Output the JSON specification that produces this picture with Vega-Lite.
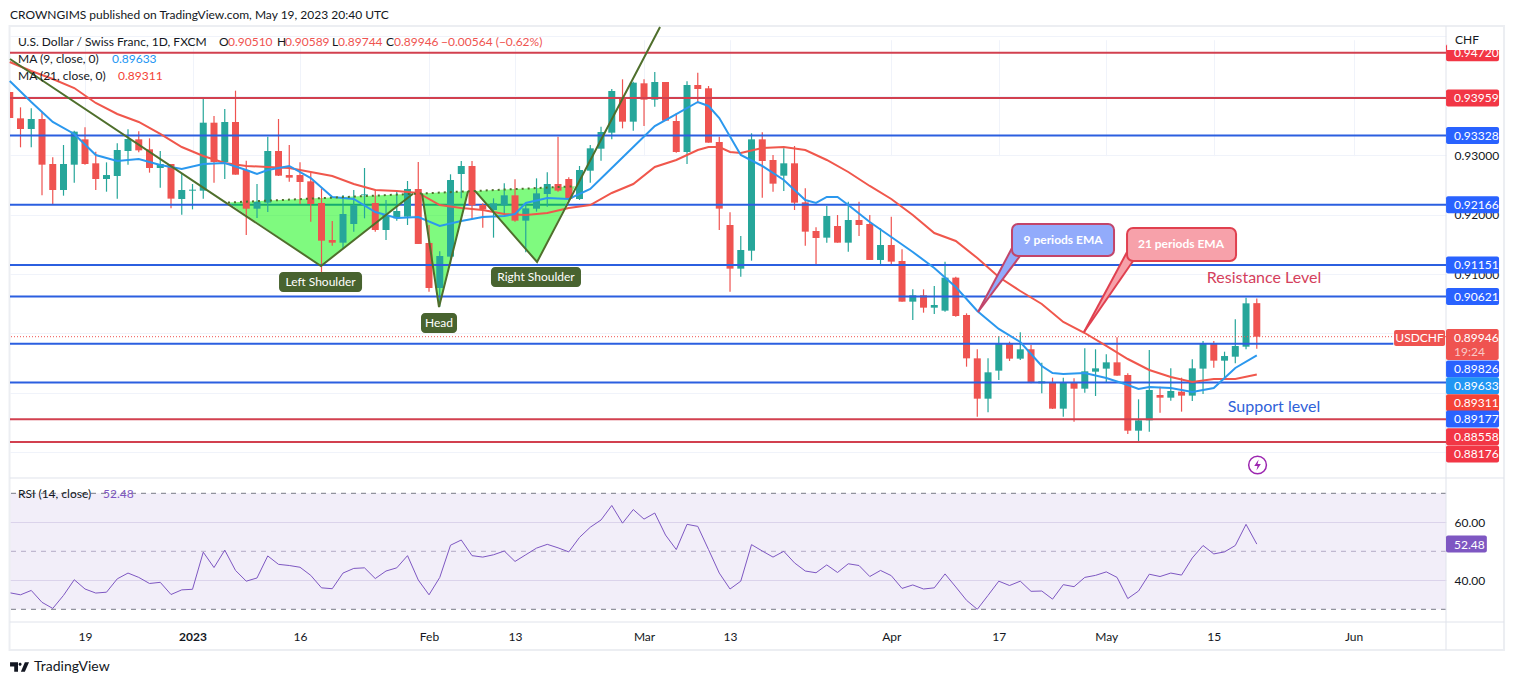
{
  "$schema": "https://vega.github.io/schema/vega-lite/v6.json",
  "autosize": "none",
  "padding": {"left": 10, "top": 27, "right": 68, "bottom": 63},
  "width": 1436,
  "height": 595,
  "background": "#ffffff",
  "config": {"font": "Lato", "view": {"stroke": null}, "legend": {"disable": true}, "text": {"font": "Lato"}},
  "datasets": {
    "candles": [
      {"k":-7,"o":0.94060,"h":0.94060,"l":0.93623,"c":0.93623},
      {"k":-6,"o":0.93617,"h":0.93802,"l":0.93130,"c":0.93438},
      {"k":-5,"o":0.93438,"h":0.93785,"l":0.93130,"c":0.93606},
      {"k":-4,"o":0.93606,"h":0.93729,"l":0.92323,"c":0.92838},
      {"k":-3,"o":0.92849,"h":0.92961,"l":0.92160,"c":0.92412},
      {"k":-2,"o":0.92412,"h":0.93169,"l":0.92317,"c":0.92849},
      {"k":-1,"o":0.92838,"h":0.93410,"l":0.92536,"c":0.93393},
      {"k":0,"o":0.93264,"h":0.93466,"l":0.92838,"c":0.92849},
      {"k":1,"o":0.92861,"h":0.93057,"l":0.92412,"c":0.92597},
      {"k":2,"o":0.92597,"h":0.92877,"l":0.92384,"c":0.92664},
      {"k":3,"o":0.92648,"h":0.93197,"l":0.92267,"c":0.93085},
      {"k":4,"o":0.93068,"h":0.93432,"l":0.92838,"c":0.93270},
      {"k":5,"o":0.93264,"h":0.93399,"l":0.93046,"c":0.93079},
      {"k":6,"o":0.93096,"h":0.93281,"l":0.92704,"c":0.92782},
      {"k":7,"o":0.92782,"h":0.93068,"l":0.92452,"c":0.92849},
      {"k":8,"o":0.92849,"h":0.92849,"l":0.92104,"c":0.92267},
      {"k":9,"o":0.92261,"h":0.92681,"l":0.91998,"c":0.92412},
      {"k":10,"o":0.92401,"h":0.92513,"l":0.92087,"c":0.92418},
      {"k":11,"o":0.92401,"h":0.93970,"l":0.92267,"c":0.93544},
      {"k":12,"o":0.93544,"h":0.93656,"l":0.92536,"c":0.92883},
      {"k":13,"o":0.92883,"h":0.93774,"l":0.92597,"c":0.93556},
      {"k":14,"o":0.93556,"h":0.94082,"l":0.92670,"c":0.92670},
      {"k":15,"o":0.92749,"h":0.92905,"l":0.91656,"c":0.92098},
      {"k":16,"o":0.92098,"h":0.92513,"l":0.91942,"c":0.92211},
      {"k":17,"o":0.92199,"h":0.93309,"l":0.92042,"c":0.93068},
      {"k":18,"o":0.93068,"h":0.93606,"l":0.92648,"c":0.92653},
      {"k":19,"o":0.92664,"h":0.93169,"l":0.92552,"c":0.92620},
      {"k":20,"o":0.92664,"h":0.92877,"l":0.92177,"c":0.92547},
      {"k":21,"o":0.92558,"h":0.92704,"l":0.91880,"c":0.92177},
      {"k":22,"o":0.92194,"h":0.92440,"l":0.90899,"c":0.91560},
      {"k":23,"o":0.91572,"h":0.91891,"l":0.91476,"c":0.91527},
      {"k":24,"o":0.91527,"h":0.92328,"l":0.91432,"c":0.92009},
      {"k":25,"o":0.91841,"h":0.92412,"l":0.91712,"c":0.92160},
      {"k":26,"o":0.92323,"h":0.92782,"l":0.91936,"c":0.92339},
      {"k":27,"o":0.92194,"h":0.92424,"l":0.91712,"c":0.91740},
      {"k":28,"o":0.91740,"h":0.92244,"l":0.91572,"c":0.91992},
      {"k":29,"o":0.91936,"h":0.92384,"l":0.91897,"c":0.92059},
      {"k":30,"o":0.91964,"h":0.92564,"l":0.91824,"c":0.92429},
      {"k":31,"o":0.92429,"h":0.92883,"l":0.91505,"c":0.91505},
      {"k":32,"o":0.91521,"h":0.91824,"l":0.90703,"c":0.90765},
      {"k":33,"o":0.90765,"h":0.91381,"l":0.90451,"c":0.91303},
      {"k":34,"o":0.91292,"h":0.92676,"l":0.91151,"c":0.92580},
      {"k":35,"o":0.92681,"h":0.92900,"l":0.92272,"c":0.92816},
      {"k":36,"o":0.92816,"h":0.92900,"l":0.91919,"c":0.92155},
      {"k":37,"o":0.92160,"h":0.92188,"l":0.91779,"c":0.92087},
      {"k":38,"o":0.92076,"h":0.92272,"l":0.91611,"c":0.92188},
      {"k":39,"o":0.92155,"h":0.92524,"l":0.91992,"c":0.92323},
      {"k":40,"o":0.92323,"h":0.92592,"l":0.91880,"c":0.91897},
      {"k":41,"o":0.91897,"h":0.92188,"l":0.91364,"c":0.92104},
      {"k":42,"o":0.92098,"h":0.92608,"l":0.92048,"c":0.92356},
      {"k":43,"o":0.92345,"h":0.92709,"l":0.92132,"c":0.92513},
      {"k":44,"o":0.92513,"h":0.93309,"l":0.92384,"c":0.92401},
      {"k":45,"o":0.92597,"h":0.92625,"l":0.92216,"c":0.92261},
      {"k":46,"o":0.92261,"h":0.92816,"l":0.92244,"c":0.92749},
      {"k":47,"o":0.92737,"h":0.93169,"l":0.92536,"c":0.93113},
      {"k":48,"o":0.93107,"h":0.93477,"l":0.92905,"c":0.93387},
      {"k":49,"o":0.93376,"h":0.94110,"l":0.93264,"c":0.94077},
      {"k":50,"o":0.93970,"h":0.94273,"l":0.93449,"c":0.93561},
      {"k":51,"o":0.93561,"h":0.94234,"l":0.93410,"c":0.94217},
      {"k":52,"o":0.94206,"h":0.94273,"l":0.93488,"c":0.93931},
      {"k":53,"o":0.93931,"h":0.94396,"l":0.93813,"c":0.94228},
      {"k":54,"o":0.94228,"h":0.94228,"l":0.93578,"c":0.93578},
      {"k":55,"o":0.93572,"h":0.93701,"l":0.93040,"c":0.93051},
      {"k":56,"o":0.93051,"h":0.94239,"l":0.92850,"c":0.94178},
      {"k":57,"o":0.94178,"h":0.94385,"l":0.93869,"c":0.94110},
      {"k":58,"o":0.94122,"h":0.94161,"l":0.93208,"c":0.93208},
      {"k":59,"o":0.93219,"h":0.93309,"l":0.91740,"c":0.92099},
      {"k":60,"o":0.91824,"h":0.92037,"l":0.90703,"c":0.91090},
      {"k":61,"o":0.91090,"h":0.91639,"l":0.90955,"c":0.91404},
      {"k":62,"o":0.91392,"h":0.93365,"l":0.91224,"c":0.93264},
      {"k":63,"o":0.93264,"h":0.93382,"l":0.92284,"c":0.92900},
      {"k":64,"o":0.92917,"h":0.93001,"l":0.92384,"c":0.92519},
      {"k":65,"o":0.92653,"h":0.93113,"l":0.92396,"c":0.92861},
      {"k":66,"o":0.92861,"h":0.93152,"l":0.92076,"c":0.92199},
      {"k":67,"o":0.92205,"h":0.92440,"l":0.91476,"c":0.91712},
      {"k":68,"o":0.91723,"h":0.91785,"l":0.91163,"c":0.91605},
      {"k":69,"o":0.91611,"h":0.92143,"l":0.91527,"c":0.91975},
      {"k":70,"o":0.91807,"h":0.91992,"l":0.91527,"c":0.91527},
      {"k":71,"o":0.91527,"h":0.92216,"l":0.91376,"c":0.91908},
      {"k":72,"o":0.91908,"h":0.92216,"l":0.91639,"c":0.91824},
      {"k":73,"o":0.91841,"h":0.91992,"l":0.91236,"c":0.91236},
      {"k":74,"o":0.91236,"h":0.91768,"l":0.91163,"c":0.91488},
      {"k":75,"o":0.91488,"h":0.91964,"l":0.91151,"c":0.91208},
      {"k":76,"o":0.91219,"h":0.91415,"l":0.90535,"c":0.90535},
      {"k":77,"o":0.90535,"h":0.90742,"l":0.90227,"c":0.90642},
      {"k":78,"o":0.90642,"h":0.90742,"l":0.90350,"c":0.90434},
      {"k":79,"o":0.90434,"h":0.90798,"l":0.90328,"c":0.90479},
      {"k":80,"o":0.90384,"h":0.91208,"l":0.90367,"c":0.90939},
      {"k":81,"o":0.90939,"h":0.90955,"l":0.90283,"c":0.90294},
      {"k":82,"o":0.90311,"h":0.90339,"l":0.89442,"c":0.89582},
      {"k":83,"o":0.89582,"h":0.89734,"l":0.88602,"c":0.88904},
      {"k":84,"o":0.88904,"h":0.89582,"l":0.88675,"c":0.89347},
      {"k":85,"o":0.89375,"h":0.89958,"l":0.89218,"c":0.89823},
      {"k":86,"o":0.89823,"h":0.89863,"l":0.89537,"c":0.89577},
      {"k":87,"o":0.89577,"h":0.90019,"l":0.89554,"c":0.89734},
      {"k":88,"o":0.89734,"h":0.89807,"l":0.89162,"c":0.89173},
      {"k":89,"o":0.89162,"h":0.89510,"l":0.88994,"c":0.89196},
      {"k":90,"o":0.89179,"h":0.89257,"l":0.88730,"c":0.88736},
      {"k":91,"o":0.88736,"h":0.89257,"l":0.88602,"c":0.89179},
      {"k":92,"o":0.89179,"h":0.89246,"l":0.88518,"c":0.89072},
      {"k":93,"o":0.89072,"h":0.89750,"l":0.89005,"c":0.89364},
      {"k":94,"o":0.89358,"h":0.89734,"l":0.88949,"c":0.89414},
      {"k":95,"o":0.89409,"h":0.89650,"l":0.89173,"c":0.89515},
      {"k":96,"o":0.89515,"h":0.89935,"l":0.89291,"c":0.89291},
      {"k":97,"o":0.89302,"h":0.89330,"l":0.88310,"c":0.88366},
      {"k":98,"o":0.88366,"h":0.88893,"l":0.88193,"c":0.88540},
      {"k":99,"o":0.88540,"h":0.89722,"l":0.88349,"c":0.89050},
      {"k":100,"o":0.88966,"h":0.89106,"l":0.88669,"c":0.88921},
      {"k":101,"o":0.88921,"h":0.89414,"l":0.88871,"c":0.89033},
      {"k":102,"o":0.89022,"h":0.89257,"l":0.88686,"c":0.88955},
      {"k":103,"o":0.88955,"h":0.89565,"l":0.88865,"c":0.89414},
      {"k":104,"o":0.89409,"h":0.89874,"l":0.88983,"c":0.89823},
      {"k":105,"o":0.89823,"h":0.89874,"l":0.89425,"c":0.89543},
      {"k":106,"o":0.89543,"h":0.89694,"l":0.89246,"c":0.89621},
      {"k":107,"o":0.89610,"h":0.90238,"l":0.89498,"c":0.89790},
      {"k":108,"o":0.89778,"h":0.90602,"l":0.89734,"c":0.90507},
      {"k":109,"o":0.90510,"h":0.90589,"l":0.89744,"c":0.89946}
    ],
    "ma9": [
      {"k":-7,"v":0.94245},{"k":-5,"v":0.93892},{"k":-3,"v":0.93556},{"k":-1,"v":0.93354},{"k":1,"v":0.93001},{"k":3,"v":0.92900},{"k":5,"v":0.92934},{"k":7,"v":0.92833},{"k":9,"v":0.92765},{"k":11,"v":0.92849},{"k":13,"v":0.92866},{"k":15,"v":0.92749},{"k":16,"v":0.92681},{"k":17,"v":0.92749},{"k":19,"v":0.92816},{"k":21,"v":0.92614},{"k":23,"v":0.92295},{"k":25,"v":0.92261},{"k":27,"v":0.92042},{"k":29,"v":0.91942},{"k":31,"v":0.91958},{"k":33,"v":0.91807},{"k":35,"v":0.91891},{"k":37,"v":0.91958},{"k":39,"v":0.91975},{"k":40,"v":0.92009},{"k":41,"v":0.92194},{"k":43,"v":0.92278},{"k":45,"v":0.92261},{"k":47,"v":0.92429},{"k":49,"v":0.92782},{"k":51,"v":0.93135},{"k":53,"v":0.93488},{"k":55,"v":0.93690},{"k":57,"v":0.93892},{"k":58,"v":0.93825},{"k":59,"v":0.93623},{"k":61,"v":0.93001},{"k":63,"v":0.92816},{"k":65,"v":0.92580},{"k":67,"v":0.92244},{"k":68,"v":0.92194},{"k":69,"v":0.92295},{"k":70,"v":0.92295},{"k":71,"v":0.92160},{"k":73,"v":0.91874},{"k":75,"v":0.91622},{"k":77,"v":0.91370},{"k":79,"v":0.91101},{"k":81,"v":0.90782},{"k":83,"v":0.90378},{"k":85,"v":0.90076},{"k":87,"v":0.89857},{"k":89,"v":0.89453},{"k":90,"v":0.89336},{"k":91,"v":0.89319},{"k":93,"v":0.89336},{"k":95,"v":0.89252},{"k":97,"v":0.89134},{"k":98,"v":0.89067},{"k":99,"v":0.89100},{"k":101,"v":0.89084},{"k":103,"v":0.89016},{"k":105,"v":0.89084},{"k":107,"v":0.89420},{"k":109,"v":0.89633}
    ],
    "ma21": [
      {"k":-7,"v":0.94564},{"k":-5,"v":0.94413},{"k":-3,"v":0.94278},{"k":-1,"v":0.94127},{"k":1,"v":0.93875},{"k":3,"v":0.93690},{"k":5,"v":0.93556},{"k":7,"v":0.93354},{"k":9,"v":0.93135},{"k":11,"v":0.92984},{"k":13,"v":0.92866},{"k":15,"v":0.92816},{"k":17,"v":0.92799},{"k":19,"v":0.92782},{"k":21,"v":0.92715},{"k":23,"v":0.92648},{"k":25,"v":0.92513},{"k":27,"v":0.92412},{"k":29,"v":0.92396},{"k":31,"v":0.92362},{"k":33,"v":0.92160},{"k":35,"v":0.92110},{"k":37,"v":0.92076},{"k":39,"v":0.92009},{"k":41,"v":0.91992},{"k":43,"v":0.92026},{"k":45,"v":0.92110},{"k":47,"v":0.92160},{"k":49,"v":0.92362},{"k":51,"v":0.92513},{"k":53,"v":0.92799},{"k":55,"v":0.92917},{"k":57,"v":0.93085},{"k":58,"v":0.93135},{"k":59,"v":0.93135},{"k":60,"v":0.93051},{"k":61,"v":0.93034},{"k":63,"v":0.93118},{"k":65,"v":0.93135},{"k":67,"v":0.93085},{"k":69,"v":0.92917},{"k":71,"v":0.92715},{"k":73,"v":0.92480},{"k":75,"v":0.92261},{"k":77,"v":0.91992},{"k":79,"v":0.91689},{"k":81,"v":0.91555},{"k":83,"v":0.91269},{"k":85,"v":0.90950},{"k":87,"v":0.90714},{"k":89,"v":0.90496},{"k":91,"v":0.90193},{"k":93,"v":0.90008},{"k":95,"v":0.89790},{"k":97,"v":0.89571},{"k":99,"v":0.89386},{"k":101,"v":0.89269},{"k":103,"v":0.89184},{"k":105,"v":0.89235},{"k":107,"v":0.89235},{"k":109,"v":0.89311}
    ],
    "rsi": [
      {"k":-7,"v":35.7},{"k":-6,"v":35.0},{"k":-5,"v":36.5},{"k":-4,"v":32.4},{"k":-3,"v":30.3},{"k":-2,"v":34.8},{"k":-1,"v":40.2},{"k":0,"v":37.0},{"k":1,"v":35.6},{"k":2,"v":35.9},{"k":3,"v":40.5},{"k":4,"v":42.5},{"k":5,"v":41.0},{"k":6,"v":38.9},{"k":7,"v":39.3},{"k":8,"v":35.1},{"k":9,"v":36.7},{"k":10,"v":36.9},{"k":11,"v":49.7},{"k":12,"v":44.4},{"k":13,"v":50.4},{"k":14,"v":43.4},{"k":15,"v":39.7},{"k":16,"v":40.8},{"k":17,"v":48.4},{"k":18,"v":45.5},{"k":19,"v":45.1},{"k":20,"v":44.5},{"k":21,"v":41.7},{"k":22,"v":37.4},{"k":23,"v":37.1},{"k":24,"v":42.5},{"k":25,"v":44.1},{"k":26,"v":44.3},{"k":27,"v":40.6},{"k":28,"v":43.2},{"k":29,"v":44.3},{"k":30,"v":48.5},{"k":31,"v":40.1},{"k":32,"v":35.0},{"k":33,"v":41.0},{"k":34,"v":52.1},{"k":35,"v":53.9},{"k":36,"v":48.5},{"k":37,"v":48.0},{"k":38,"v":48.8},{"k":39,"v":50.1},{"k":40,"v":46.5},{"k":41,"v":48.8},{"k":42,"v":51.1},{"k":43,"v":52.4},{"k":44,"v":51.2},{"k":45,"v":49.8},{"k":46,"v":54.8},{"k":47,"v":58.3},{"k":48,"v":60.8},{"k":49,"v":65.8},{"k":50,"v":59.7},{"k":51,"v":64.4},{"k":52,"v":61.1},{"k":53,"v":63.2},{"k":54,"v":55.6},{"k":55,"v":50.6},{"k":56,"v":59.3},{"k":57,"v":58.6},{"k":58,"v":50.6},{"k":59,"v":42.5},{"k":60,"v":37.0},{"k":61,"v":39.7},{"k":62,"v":52.3},{"k":63,"v":50.1},{"k":64,"v":48.0},{"k":65,"v":50.0},{"k":66,"v":46.0},{"k":67,"v":43.2},{"k":68,"v":42.6},{"k":69,"v":45.3},{"k":70,"v":42.7},{"k":71,"v":45.7},{"k":72,"v":45.1},{"k":73,"v":41.3},{"k":74,"v":43.4},{"k":75,"v":41.6},{"k":76,"v":37.2},{"k":77,"v":38.4},{"k":78,"v":37.0},{"k":79,"v":37.4},{"k":80,"v":42.2},{"k":81,"v":37.7},{"k":82,"v":33.1},{"k":83,"v":30.0},{"k":84,"v":34.8},{"k":85,"v":39.7},{"k":86,"v":38.2},{"k":87,"v":39.7},{"k":88,"v":36.2},{"k":89,"v":36.3},{"k":90,"v":33.5},{"k":91,"v":38.5},{"k":92,"v":37.8},{"k":93,"v":41.0},{"k":94,"v":41.7},{"k":95,"v":42.9},{"k":96,"v":41.0},{"k":97,"v":33.7},{"k":98,"v":36.3},{"k":99,"v":42.1},{"k":100,"v":41.3},{"k":101,"v":42.5},{"k":102,"v":41.8},{"k":103,"v":47.7},{"k":104,"v":52.0},{"k":105,"v":49.1},{"k":106,"v":49.8},{"k":107,"v":52.0},{"k":108,"v":59.3},{"k":109,"v":52.48}
    ],
    "levels": [
      {"price":0.94720,"k1":-6.977,"k2":126.6,"kind":"lineRed"},
      {"price":0.93959,"k1":-6.977,"k2":126.6,"kind":"lineRed"},
      {"price":0.93328,"k1":-6.977,"k2":126.6,"kind":"lineBlue"},
      {"price":0.92166,"k1":-6.977,"k2":13.6,"kind":"lineBlue"},
      {"price":0.92166,"k1":44.7,"k2":126.6,"kind":"lineBlue"},
      {"price":0.91151,"k1":-6.977,"k2":126.6,"kind":"lineBlue"},
      {"price":0.90621,"k1":-6.977,"k2":126.6,"kind":"lineBlue"},
      {"price":0.89826,"k1":-6.977,"k2":121.7,"kind":"lineBlue"},
      {"price":0.89177,"k1":-6.977,"k2":126.6,"kind":"lineBlue"},
      {"price":0.88558,"k1":-6.977,"k2":126.6,"kind":"lineRed"},
      {"price":0.88176,"k1":-6.977,"k2":126.6,"kind":"lineRed"}
    ],
    "tags": [
      {"t":"0.94720","at":0.94720,"kind":"tagRed"},{"t":"0.93959","at":0.93959,"kind":"tagRed"},{"t":"0.93328","at":0.93328,"kind":"tagBlue"},{"t":"0.92166","at":0.92166,"kind":"tagBlue"},{"t":"0.91151","at":0.91151,"kind":"tagBlue"},{"t":"0.90621","at":0.90621,"kind":"tagBlue"},{"t":"0.89826","at":0.89403,"kind":"tagBlue"},{"t":"0.89633","at":0.89122,"kind":"ma9"},{"t":"0.89311","at":0.88836,"kind":"ma21"},{"t":"0.89177","at":0.88562,"kind":"tagBlue"},{"t":"0.88558","at":0.88265,"kind":"tagRed"},{"t":"0.88176","at":0.87974,"kind":"tagRed"}
    ],
    "pattern": [
      {"k":13.30,"top":0.92202,"bot":0.92202,"group":"left"},{"k":21.95,"top":0.92276,"bot":0.91135,"group":"left"},{"k":30.51,"top":0.92348,"bot":0.92348,"group":"left"},
      {"k":31.35,"top":0.92355,"bot":0.92355,"group":"head"},{"k":32.93,"top":0.92369,"bot":0.90445,"group":"head"},{"k":35.63,"top":0.92391,"bot":0.92391,"group":"head"},
      {"k":36.28,"top":0.92397,"bot":0.92397,"group":"right"},{"k":42.05,"top":0.92446,"bot":0.91202,"group":"right"},{"k":45.58,"top":0.92475,"bot":0.92475,"group":"right"}
    ],
    "trend": [
      {"k":-6.977,"v":0.94615,"group":"a"},{"k":21.95,"v":0.91135,"group":"a"},{"k":30.51,"v":0.92348,"group":"a"},
      {"k":31.35,"v":0.92355,"group":"b"},{"k":32.93,"v":0.90445,"group":"b"},{"k":35.63,"v":0.92391,"group":"b"},
      {"k":36.28,"v":0.92397,"group":"c"},{"k":42.05,"v":0.91202,"group":"c"},{"k":53.49,"v":0.951527,"group":"c"}
    ],
    "neck": [{"k":13.30,"v":0.92202},{"k":45.58,"v":0.92475}],
    "boxes": [
      {"k1":86.23,"k2":95.72,"p1":0.91841,"p2":0.91303,"kind":"c9","t":"9 periods EMA","kc":90.98,"pc":0.915717},
      {"k1":96.93,"k2":107.07,"p1":0.91774,"p2":0.91219,"kind":"c21","t":"21 periods EMA","kc":101.95,"pc":0.915045}
    ],
    "tails": [
      {"k":83.07,"top":0.90361,"bot":0.90361,"kind":"c9"},{"k":86.23,"top":0.91437,"bot":0.91123,"kind":"c9"},{"k":86.98,"top":0.91303,"bot":0.91303,"kind":"c9"},
      {"k":92.93,"top":0.90025,"bot":0.90025,"kind":"c21"},{"k":96.93,"top":0.91370,"bot":0.91072,"kind":"c21"},{"k":97.49,"top":0.91219,"bot":0.91219,"kind":"c21"}
    ],
    "tailEdges": [
      {"k":83.07,"v":0.90361,"kind":"c9","edge":"a"},{"k":86.23,"v":0.91437,"kind":"c9","edge":"a"},
      {"k":83.07,"v":0.90361,"kind":"c9","edge":"b"},{"k":86.98,"v":0.91303,"kind":"c9","edge":"b"},
      {"k":92.93,"v":0.90025,"kind":"c21","edge":"c"},{"k":96.93,"v":0.91370,"kind":"c21","edge":"c"},
      {"k":92.93,"v":0.90025,"kind":"c21","edge":"d"},{"k":97.49,"v":0.91219,"kind":"c21","edge":"d"}
    ],
    "texts": [
      {"k":-6.977,"p":0.953544,"t":"CROWNGIMS published on TradingView.com, May 19, 2023 20:40 UTC","kind":"ink"},
      {"k":-6.233,"p":0.94900,"t":"U.S. Dollar / Swiss Franc, 1D, FXCM","kind":"ink"},
      {"k":12.47,"p":0.94900,"t":"O","kind":"ink"},{"k":13.30,"p":0.94900,"t":"0.90510","kind":"neg"},
      {"k":17.86,"p":0.94900,"t":"H","kind":"ink"},{"k":18.60,"p":0.94900,"t":"0.90589","kind":"neg"},
      {"k":22.98,"p":0.94900,"t":"L","kind":"ink"},{"k":23.53,"p":0.94900,"t":"0.89744","kind":"neg"},
      {"k":28.0,"p":0.94900,"t":"C","kind":"ink"},{"k":28.74,"p":0.94900,"t":"0.89946","kind":"neg"},
      {"k":33.12,"p":0.94900,"t":"−0.00564 (−0.62%)","kind":"neg"},
      {"k":-6.233,"p":0.946147,"t":"MA (9, close, 0)","kind":"ink"},{"k":2.51,"p":0.946147,"t":"0.89633","kind":"ma9"},
      {"k":-6.233,"p":0.943289,"t":"MA (21, close, 0)","kind":"ink"},{"k":3.07,"p":0.943289,"t":"0.89311","kind":"ma21"},
      {"k":-6.233,"p":0.873017,"t":"RSI (14, close)","kind":"ink"},{"k":1.67,"p":0.873017,"t":"52.48","kind":"rsi"},
      {"k":127.44,"p":0.94934,"t":"CHF","kind":"ink"},
      {"k":127.35,"p":0.864524,"t":"52.48","kind":"white"},
      {"k":127.35,"p":0.89924,"t":"0.89946","kind":"white"},
      {"k":127.35,"p":0.89689,"t":"19:24","kind":"fade"}
    ],
    "frame": [{"k1":-7.02,"k2":132,"p1":0.951695,"p2":0.846788}],
    "seps": [{"k1":-7,"k2":132,"p":0.875705},{"k1":-7,"k2":132,"p":0.851495}]
  },
  "resolve": {"scale": {"y": "independent"}, "axis": {"y": "independent"}},
  "layer": [
    {
      "layer": [
        {
          "data": {"values": [{"lo":30,"hi":70}]},
          "mark": {"type": "rect", "fill": "#7e57c2", "opacity": 0.1},
          "encoding": {
            "y": {"field": "lo", "type": "quantitative", "scale": {"domain": [30, 70], "range": [582.3, 466.3], "nice": false, "zero": false, "padding": 0},
              "axis": {"orient": "right", "values": [40, 60], "format": ".2f", "title": null, "grid": true, "gridColor": "#e6e1f0", "ticks": false, "domain": false, "labelPadding": 8, "labelFontSize": 12, "labelColor": "#131722", "labelFont": "Lato"}},
            "y2": {"field": "hi"}
          }
        },
        {
          "data": {"values": [{"lvl":70},{"lvl":30}]},
          "mark": {"type": "rule", "color": "#787b86", "strokeWidth": 1, "strokeDash": [5, 5]},
          "encoding": {"y": {"field": "lvl", "type": "quantitative"}}
        },
        {
          "data": {"values": [{"lvl":50}]},
          "mark": {"type": "rule", "color": "#b3abc6", "strokeWidth": 1, "strokeDash": [5, 5]},
          "encoding": {"y": {"field": "lvl", "type": "quantitative"}}
        },
        {
          "data": {"name": "rsi"},
          "mark": {"type": "line", "color": "#7e57c2", "strokeWidth": 1},
          "encoding": {
            "x": {"field": "k", "type": "quantitative", "scale": {"domain": [-6.977, 126.6], "nice": false, "zero": false, "padding": 0}},
            "y": {"field": "v", "type": "quantitative"}
          }
        }
      ]
    },
    {
      "layer": [
        {
          "data": {"name": "frame"},
          "mark": {"type": "rect", "fill": null, "stroke": "#eceef2", "strokeWidth": 2, "clip": false},
          "encoding": {
            "x": {"field": "k1", "type": "quantitative", "scale": {"domain": [-6.977, 126.6], "nice": false, "zero": false, "padding": 0},
              "axis": {"values": [0, 10, 20, 32, 40, 52, 60, 75, 85, 95, 105, 118], "title": null, "domain": false, "ticks": false, "grid": true, "gridColor": "#f0f3fa", "labelPadding": 9, "labelFontSize": 12, "labelColor": "#131722", "labelFont": "Lato",
                "labelFontWeight": {"condition": {"test": "datum.value == 10", "value": "bold"}, "value": "normal"},
                "labelExpr": "datum.value==0?'19':datum.value==10?'2023':datum.value==20?'16':datum.value==32?'Feb':datum.value==40?'13':datum.value==52?'Mar':datum.value==60?'13':datum.value==75?'Apr':datum.value==85?'17':datum.value==95?'May':datum.value==105?'15':'Jun'"}},
            "x2": {"field": "k2"},
            "y": {"field": "p1", "type": "quantitative", "scale": {"domain": [0.851495, 0.951527], "nice": false, "zero": false, "padding": 0},
              "axis": {"orient": "right", "values": [0.88, 0.89, 0.90, 0.91, 0.92, 0.93, 0.94, 0.95], "title": null, "domain": false, "ticks": false, "grid": true, "gridColor": "#f0f3fa", "labelPadding": 8, "labelFontSize": 12, "labelColor": "#131722", "labelFont": "Lato",
                "labelExpr": "datum.value > 0.905 && datum.value < 0.935 ? format(datum.value, '.5f') : ''"}},
            "y2": {"field": "p2"}
          }
        },
        {
          "data": {"name": "seps"},
          "mark": {"type": "rule", "color": "#e0e3eb", "strokeWidth": 1},
          "encoding": {
            "x": {"field": "k1", "type": "quantitative"}, "x2": {"field": "k2"},
            "y": {"field": "p", "type": "quantitative"}
          }
        },
        {
          "data": {"values": [{"k":126.6,"p1":0.951695,"p2":0.846788}]},
          "mark": {"type": "rule", "color": "#e0e3eb", "strokeWidth": 1},
          "encoding": {
            "x": {"field": "k", "type": "quantitative"},
            "y": {"field": "p1", "type": "quantitative"}, "y2": {"field": "p2"}
          }
        },
        {
          "data": {"values": [{"price":0.92166,"k1":13.6,"k2":44.7}]},
          "mark": {"type": "rule", "color": "#2b5fe0", "strokeWidth": 2},
          "encoding": {
            "x": {"field": "k1", "type": "quantitative"}, "x2": {"field": "k2"},
            "y": {"field": "price", "type": "quantitative"}
          }
        },
        {
          "data": {"name": "pattern"},
          "mark": {"type": "area", "fill": "#00f500", "opacity": 0.5},
          "encoding": {
            "x": {"field": "k", "type": "quantitative"},
            "y": {"field": "top", "type": "quantitative"}, "y2": {"field": "bot"},
            "detail": {"field": "group"}
          }
        },
        {
          "data": {"name": "candles"},
          "mark": {"type": "rule", "strokeWidth": 1.2, "clip": true},
          "encoding": {
            "x": {"field": "k", "type": "quantitative"},
            "y": {"field": "l", "type": "quantitative"}, "y2": {"field": "h"},
            "stroke": {"condition": {"test": "datum.c < datum.o", "value": "#ef5350"}, "value": "#26a69a"}
          }
        },
        {
          "data": {"name": "candles"},
          "mark": {"type": "bar", "orient": "vertical", "size": 7, "clip": true},
          "encoding": {
            "x": {"field": "k", "type": "quantitative"},
            "y": {"field": "o", "type": "quantitative"}, "y2": {"field": "c"},
            "fill": {"condition": {"test": "datum.c < datum.o", "value": "#ef5350"}, "value": "#26a69a"}
          }
        },
        {
          "data": {"name": "levels"},
          "mark": {"type": "rule", "strokeWidth": 2},
          "encoding": {
            "x": {"field": "k1", "type": "quantitative"}, "x2": {"field": "k2"},
            "y": {"field": "price", "type": "quantitative"},
            "color": {"field": "kind", "type": "nominal", "scale": {
              "domain": ["lineRed", "lineBlue", "tagRed", "tagBlue", "ma9", "ma21", "ink", "neg", "rsi", "white", "fade"],
              "range": ["#d2404f", "#2b5fe0", "#f23645", "#2962ff", "#2196f3", "#f44336", "#131722", "#ef5350", "#7e57c2", "#ffffff", "#f9c9c6"]}}
          }
        },
        {
          "data": {"values": [{"p":0.89946}]},
          "mark": {"type": "rule", "color": "#ef5350", "strokeWidth": 1, "strokeDash": [1, 2]},
          "encoding": {"y": {"field": "p", "type": "quantitative"}}
        },
        {
          "data": {"name": "ma21"},
          "mark": {"type": "line", "color": "#f0574c", "strokeWidth": 2},
          "encoding": {
            "x": {"field": "k", "type": "quantitative"},
            "y": {"field": "v", "type": "quantitative"}
          }
        },
        {
          "data": {"name": "ma9"},
          "mark": {"type": "line", "color": "#2b98ee", "strokeWidth": 2},
          "encoding": {
            "x": {"field": "k", "type": "quantitative"},
            "y": {"field": "v", "type": "quantitative"}
          }
        },
        {
          "data": {"name": "trend"},
          "mark": {"type": "line", "color": "#4f6f2c", "strokeWidth": 2},
          "encoding": {
            "x": {"field": "k", "type": "quantitative"},
            "y": {"field": "v", "type": "quantitative"},
            "detail": {"field": "group"}
          }
        },
        {
          "data": {"name": "neck"},
          "mark": {"type": "line", "color": "#4f6f2c", "strokeWidth": 2, "strokeDash": [2, 4]},
          "encoding": {
            "x": {"field": "k", "type": "quantitative"},
            "y": {"field": "v", "type": "quantitative"}
          }
        },
        {
          "data": {"name": "tails"},
          "mark": {"type": "area"},
          "encoding": {
            "x": {"field": "k", "type": "quantitative"},
            "y": {"field": "top", "type": "quantitative"}, "y2": {"field": "bot"},
            "detail": {"field": "kind"},
            "fill": {"condition": {"test": "datum.kind == 'c9'", "value": "#92abfb"}, "value": "#f7a1aa"}
          }
        },
        {
          "data": {"name": "tailEdges"},
          "mark": {"type": "line", "strokeWidth": 2},
          "encoding": {
            "x": {"field": "k", "type": "quantitative"},
            "y": {"field": "v", "type": "quantitative"},
            "detail": {"field": "edge"},
            "stroke": {"condition": {"test": "datum.kind == 'c9'", "value": "#c2456a"}, "value": "#e0404f"}
          }
        },
        {
          "data": {"name": "boxes"},
          "mark": {"type": "rect", "cornerRadius": 6, "strokeWidth": 2},
          "encoding": {
            "x": {"field": "k1", "type": "quantitative"}, "x2": {"field": "k2"},
            "y": {"field": "p1", "type": "quantitative"}, "y2": {"field": "p2"},
            "fill": {"condition": {"test": "datum.kind == 'c9'", "value": "#92abfb"}, "value": "#f7a1aa"},
            "stroke": {"condition": {"test": "datum.kind == 'c9'", "value": "#c2456a"}, "value": "#e0404f"}
          }
        },
        {
          "data": {"name": "boxes"},
          "mark": {"type": "text", "color": "#ffffff", "fontSize": 12, "fontWeight": "bold"},
          "encoding": {
            "x": {"field": "kc", "type": "quantitative"},
            "y": {"field": "pc", "type": "quantitative"},
            "text": {"field": "t"}
          }
        },
        {
          "data": {"values": [{"k":21.91,"p":0.908656}]},
          "mark": {"type": "tick", "orient": "horizontal", "size": 83, "thickness": 20, "cornerRadius": 4, "color": "#48632f", "opacity": 1},
          "encoding": {"x": {"field": "k", "type": "quantitative"}, "y": {"field": "p", "type": "quantitative"}}
        },
        {
          "data": {"values": [{"k":32.93,"p":0.901763}]},
          "mark": {"type": "tick", "orient": "horizontal", "size": 36, "thickness": 20, "cornerRadius": 4, "color": "#48632f", "opacity": 1},
          "encoding": {"x": {"field": "k", "type": "quantitative"}, "y": {"field": "p", "type": "quantitative"}}
        },
        {
          "data": {"values": [{"k":41.95,"p":0.909497}]},
          "mark": {"type": "tick", "orient": "horizontal", "size": 90, "thickness": 20, "cornerRadius": 4, "color": "#48632f", "opacity": 1},
          "encoding": {"x": {"field": "k", "type": "quantitative"}, "y": {"field": "p", "type": "quantitative"}}
        },
        {
          "data": {"values": [{"k":21.91,"p":0.908656,"t":"Left Shoulder"},{"k":32.93,"p":0.901763,"t":"Head"},{"k":41.95,"p":0.909497,"t":"Right Shoulder"}]},
          "mark": {"type": "text", "color": "#ffffff", "fontSize": 12},
          "encoding": {"x": {"field": "k", "type": "quantitative"}, "y": {"field": "p", "type": "quantitative"}, "text": {"field": "t"}}
        },
        {
          "data": {"values": [{"k":109.67,"p":0.909329,"t":"Resistance Level"}]},
          "mark": {"type": "text", "color": "#d4405c", "fontSize": 16},
          "encoding": {"x": {"field": "k", "type": "quantitative"}, "y": {"field": "p", "type": "quantitative"}, "text": {"field": "t"}}
        },
        {
          "data": {"values": [{"k":110.6,"p":0.887641,"t":"Support level"}]},
          "mark": {"type": "text", "color": "#2f62d9", "fontSize": 16},
          "encoding": {"x": {"field": "k", "type": "quantitative"}, "y": {"field": "p", "type": "quantitative"}, "text": {"field": "t"}}
        },
        {
          "data": {"values": [{"k":109.07,"p":0.87789}]},
          "mark": {"type": "point", "shape": "circle", "size": 314, "filled": false, "stroke": "#9c27b0", "strokeWidth": 1.5, "opacity": 1},
          "encoding": {"x": {"field": "k", "type": "quantitative"}, "y": {"field": "p", "type": "quantitative"}}
        },
        {
          "data": {"values": [{"k":109.07,"p":0.87789}]},
          "mark": {"type": "point", "shape": "M0.1 -0.5 L-0.3 0.1 H0 L-0.1 0.5 L0.3 -0.1 H0 Z", "size": 484, "filled": true, "fill": "#9c27b0", "opacity": 1},
          "encoding": {"x": {"field": "k", "type": "quantitative"}, "y": {"field": "p", "type": "quantitative"}}
        },
        {
          "data": {"values": [{"k":-6.09,"p":0.84393}]},
          "mark": {"type": "point", "shape": "M-0.5 -0.25 H-0.08 V0.25 H-0.28 V-0.03 H-0.5 Z M0.11 -0.15 A0.08 0.08 0 1 1 -0.05 -0.15 A0.08 0.08 0 1 1 0.11 -0.15 Z M0.28 -0.25 H0.5 L0.28 0.25 H0.07 Z", "size": 1444, "filled": true, "fill": "#131722", "opacity": 1},
          "encoding": {"x": {"field": "k", "type": "quantitative"}, "y": {"field": "p", "type": "quantitative"}}
        },
        {
          "data": {"values": [{"k":-4.74,"p":0.84393,"t":"TradingView"}]},
          "mark": {"type": "text", "align": "left", "color": "#131722", "fontSize": 14},
          "encoding": {"x": {"field": "k", "type": "quantitative"}, "y": {"field": "p", "type": "quantitative"}, "text": {"field": "t"}}
        },
        {
          "data": {"name": "tags"},
          "mark": {"type": "tick", "orient": "horizontal", "size": 53, "thickness": 17, "cornerRadius": 2, "opacity": 1},
          "encoding": {
            "x": {"datum": 129.07, "type": "quantitative"},
            "y": {"field": "at", "type": "quantitative"},
            "color": {"field": "kind", "type": "nominal"}
          }
        },
        {
          "data": {"name": "tags"},
          "mark": {"type": "text", "align": "left", "color": "#ffffff", "fontSize": 12},
          "encoding": {
            "x": {"datum": 127.35, "type": "quantitative"},
            "y": {"field": "at", "type": "quantitative"},
            "text": {"field": "t"}
          }
        },
        {
          "data": {"values": [{"k1":126.7,"k2":131.8,"p1":0.951527,"p2":0.94766}]},
          "mark": {"type": "rect", "fill": "#ffffff"},
          "encoding": {
            "x": {"field": "k1", "type": "quantitative"}, "x2": {"field": "k2"},
            "y": {"field": "p1", "type": "quantitative"}, "y2": {"field": "p2"}
          }
        },
        {
          "data": {"values": [{"k1":126.6,"k2":131.5,"p1":0.900755,"p2":0.895543}]},
          "mark": {"type": "rect", "fill": "#ef5350", "cornerRadius": 2},
          "encoding": {
            "x": {"field": "k1", "type": "quantitative"}, "x2": {"field": "k2"},
            "y": {"field": "p1", "type": "quantitative"}, "y2": {"field": "p2"}
          }
        },
        {
          "data": {"values": [{"k1":121.77,"k2":126.51,"p1":0.900586,"p2":0.897896}]},
          "mark": {"type": "rect", "fill": "#ef5350", "cornerRadius": 2},
          "encoding": {
            "x": {"field": "k1", "type": "quantitative"}, "x2": {"field": "k2"},
            "y": {"field": "p1", "type": "quantitative"}, "y2": {"field": "p2"}
          }
        },
        {
          "data": {"values": [{"k":124.14,"p":0.89924,"t":"USDCHF"}]},
          "mark": {"type": "text", "color": "#ffffff", "fontSize": 12},
          "encoding": {"x": {"field": "k", "type": "quantitative"}, "y": {"field": "p", "type": "quantitative"}, "text": {"field": "t"}}
        },
        {
          "data": {"values": [{"k1":126.6,"k2":130.4,"p1":0.866028,"p2":0.863170}]},
          "mark": {"type": "rect", "fill": "#7e57c2", "cornerRadius": 2},
          "encoding": {
            "x": {"field": "k1", "type": "quantitative"}, "x2": {"field": "k2"},
            "y": {"field": "p1", "type": "quantitative"}, "y2": {"field": "p2"}
          }
        },
        {
          "data": {"name": "texts"},
          "mark": {"type": "text", "align": "left", "fontSize": 12},
          "encoding": {
            "x": {"field": "k", "type": "quantitative"},
            "y": {"field": "p", "type": "quantitative"},
            "text": {"field": "t"},
            "color": {"field": "kind", "type": "nominal"}
          }
        }
      ]
    }
  ]
}
